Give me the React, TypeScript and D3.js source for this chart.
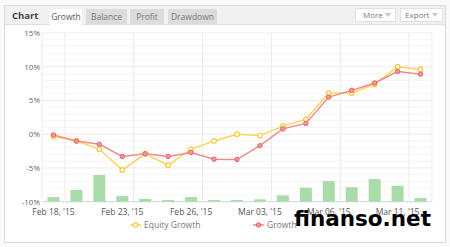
import React from "react";
import * as d3 from "d3";

const categories = [
  "Feb 18, '15", "Feb 19, '15", "Feb 20, '15", "Feb 23, '15", "Feb 24, '15", "Feb 25, '15",
  "Feb 26, '15", "Feb 27, '15", "Mar 02, '15", "Mar 03, '15", "Mar 04, '15", "Mar 05, '15",
  "Mar 06, '15", "Mar 09, '15", "Mar 10, '15", "Mar 11, '15", "Mar 12, '15",
];
const tickLabels = ["Feb 18, '15", "Feb 23, '15", "Feb 26, '15", "Mar 03, '15", "Mar 06, '15", "Mar 11, '15"];
const equityGrowth = [-0.3, -1.0, -2.2, -5.3, -2.9, -4.6, -2.2, -1.0, 0.0, -0.2, 1.2, 2.2, 6.1, 6.1, 7.4, 10.0, 9.6];
const growth = [-0.1, -1.0, -1.5, -3.3, -2.9, -3.3, -2.7, -3.7, -3.75, -1.7, 0.8, 1.6, 5.5, 6.5, 7.6, 9.3, 8.9];
const barValues = [1.0, 2.5, 5.7, 1.2, 0.6, 0.35, 1.0, 0.35, 0.35, 0.5, 1.35, 3.0, 4.4, 3.1, 4.85, 3.4, 0.8];
const yTicks = [-10, -5, 0, 5, 10, 15];
const yMinorTicks = d3.range(-10, 15, 1);
const tabs = ["Growth", "Balance", "Profit", "Drawdown"];

const W = 450, H = 247;
const plot = { left: 42, right: 432, top: 33, bottom: 201.7 };
const FONT = "'Open Sans', 'DejaVu Sans', sans-serif";

export default function App() {
  const x = d3.scaleBand<string>().domain(categories).range([plot.left, plot.right]).padding(0);
  const cx = (c: string) => (x(c) as number) + x.bandwidth() / 2;
  const y = d3.scaleLinear().domain([-10, 15]).range([plot.bottom, plot.top]);
  const yBar = d3.scaleLinear().domain([0, 36]).range([0, plot.bottom - plot.top]);
  const line = d3.line<number>().x((_, i) => cx(categories[i])).y((d) => y(d));

  const tabX = [50, 86, 130, 168];
  const tabW = [32, 41, 34, 49];

  return (
    <div style={{ position: "absolute", left: 0, top: 0 }}>
      <svg width={W} height={H} style={{ display: "block", fontFamily: FONT }}>
        <rect x={0} y={0} width={W} height={H} fill="#fafafa" />
        <rect x={4.5} y={5.5} width={441} height={237} fill="#ffffff" stroke="#dcdcdc" />
        {/* header */}
        <rect x={5} y={6} width={440} height={18.5} fill="#f1f1f1" />
        <line x1={5} x2={445} y1={24.5} y2={24.5} stroke="#dedede" />
        <text x={12} y={19} fontSize={9.5} fontWeight="bold" fill="#444">Chart</text>
        {tabs.map((t, i) => (
          <g key={t}>
            <rect x={tabX[i]} y={9} width={tabW[i]} height={i === 0 ? 16 : 15.5} fill={i === 0 ? "#ffffff" : "#dcdcdc"} />
            <text x={tabX[i] + tabW[i] / 2} y={19.5} fontSize={8.5} textAnchor="middle" fill={i === 0 ? "#555" : "#777"}>{t}</text>
          </g>
        ))}
        <rect x={355.5} y={8.5} width={40} height={13} fill="#fff" stroke="#e0e0e0" />
        <text x={363} y={18} fontSize={8} fill="#777">More</text>
        <path d="M385,13 L391,13 L388,17 Z" fill="#c8c8c8" />
        <rect x={400.5} y={8.5} width={42} height={13} fill="#fff" stroke="#e0e0e0" />
        <text x={405} y={18} fontSize={8} fill="#777">Export</text>
        <path d="M432,13 L438,13 L435,17 Z" fill="#c8c8c8" />

        {/* minor grid */}
        {yMinorTicks.filter((v) => v % 5 !== 0).map((v) => (
          <line key={"m" + v} x1={plot.left} x2={plot.right} y1={y(v)} y2={y(v)} stroke="#f5f5f5" strokeWidth={1} />
        ))}
        {/* major grid */}
        {yTicks.map((v) => (
          <line key={"g" + v} x1={plot.left} x2={plot.right} y1={y(v)} y2={y(v)} stroke={v === -10 ? "#c8d3e0" : "#ebebeb"} strokeWidth={1} />
        ))}
        {/* vertical grid */}
        {tickLabels.map((t) => (
          <line key={"v" + t} x1={(x(t) as number) + x.bandwidth()} x2={(x(t) as number) + x.bandwidth()} y1={plot.top} y2={plot.bottom} stroke="#ebebeb" />
        ))}
        <line x1={plot.left} x2={plot.left} y1={plot.top} y2={plot.bottom} stroke="#ebebeb" />
        <line x1={plot.right} x2={plot.right} y1={plot.top} y2={plot.bottom} stroke="#ebebeb" />

        {/* y labels */}
        {yTicks.map((v) => (
          <text key={"yl" + v} x={40} y={y(v) + 3} fontSize={8} textAnchor="end" fill="#666">{`${v}%`}</text>
        ))}
        {/* x labels */}
        {tickLabels.map((t) => (
          <text key={"xl" + t} x={cx(t)} y={215} fontSize={8.5} textAnchor="middle" fill="#555">{t}</text>
        ))}

        {/* bars */}
        {barValues.map((v, i) => (
          <rect key={"b" + i} x={cx(categories[i]) - 6} y={plot.bottom - yBar(v)} width={12} height={yBar(v)} fill="#a9dca9" />
        ))}

        {/* lines */}
        <path d={line(equityGrowth) || ""} fill="none" stroke="#fdd35c" strokeWidth={1.5} />
        {equityGrowth.map((v, i) => (
          <circle key={"e" + i} cx={cx(categories[i])} cy={y(v)} r={2.3} fill="#fff" stroke="#f9c934" strokeWidth={1.2} />
        ))}
        <path d={line(growth) || ""} fill="none" stroke="#f28a8a" strokeWidth={1.5} />
        {growth.map((v, i) => (
          <circle key={"r" + i} cx={cx(categories[i])} cy={y(v)} r={2.2} fill="#f59a9a" stroke="#e86060" strokeWidth={1} />
        ))}

        {/* legend */}
        <line x1={130} x2={141} y1={225} y2={225} stroke="#fdd35c" strokeWidth={1.5} />
        <circle cx={135.5} cy={225} r={2.2} fill="#fff" stroke="#f9c934" strokeWidth={1.2} />
        <text x={144} y={228} fontSize={8.5} fill="#777">Equity Growth</text>
        <line x1={253} x2={264} y1={225} y2={225} stroke="#f28a8a" strokeWidth={1.5} />
        <circle cx={258.5} cy={225} r={2.2} fill="#f59a9a" stroke="#e86060" strokeWidth={1} />
        <text x={267} y={228} fontSize={8.5} fill="#777">Growth</text>

        {/* watermark */}
        <text x={294} y={226} fontSize={21.5} fontWeight="bold" fill="#000" fontFamily="'DejaVu Sans', sans-serif">finanso.net</text>
      </svg>
    </div>
  );
}
